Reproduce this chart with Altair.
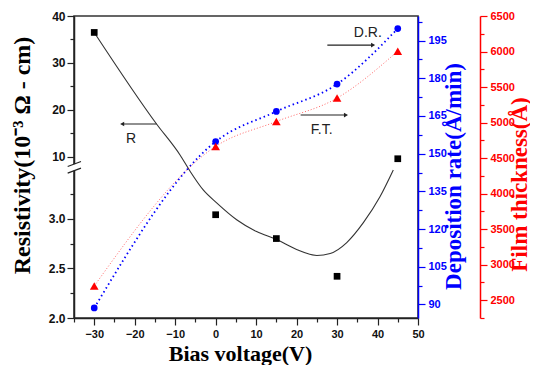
import altair as alt
import pandas as pd

# ---------------- data ----------------
bias = [-30, 0, 15, 30, 45]                         # Bias voltage (V)
resistivity = [36.5, 3.04, 2.80, 2.42, 9.6]         # 10^-3 ohm-cm
dep_rate = [88.6, 154.8, 166.8, 177.7, 199.8]       # Å/min
thickness = [2700, 4665, 5015, 5345, 6005]          # Å

# fitted resistivity curve (solid black)
fit_x = [-30, -14.6, -8.8, -6.35, -3.07, 0.25, 5.19, 10.13, 15.07, 20.0,
         25.0, 28.3, 32.4, 36.5, 40.6, 43.9]
fit_r = [36.5, 17.0, 10.4, 3.48, 3.29, 3.16, 2.99, 2.87, 2.79, 2.69,
         2.63, 2.65, 2.76, 2.96, 3.22, 3.49]

# annotations
ann_text = ["R", "D.R.", "F.T."]
ann_tx = [-20.9, 37.6, 26.2]
ann_ty = [13.8, 36.3, 15.7]
arrow_from = [-14.6, 27.6, 21.0]
arrow_to = [-23.1, 38.9, 32.2]
arrow_y = [17.0, 33.8, 18.9]
arrow_shape = ["triangle-left", "triangle-right", "triangle-right"]

# broken left axis: lower segment 2.0-3.5, upper segment 7.4-40
left_major = [2.0, 2.5, 3.0, 10, 20, 30, 40]
left_major_lab = ["2.0", "2.5", "3.0", "10", "20", "30", "40"]
left_minor = [2.25, 2.75, 3.25, 15, 25, 35]

LOW_SCALE = 99.4     # axis units per resistivity unit (lower segment)
HIGH_SCALE = 4.7     # axis units per resistivity unit (upper segment)
HIGH_BASE = 161.3    # axis position of 10


def brk(v):
    if v < 5:
        return (v - 2.0) * LOW_SCALE
    return HIGH_BASE + (v - 10) * HIGH_SCALE


U_TOP = brk(40)

pts = pd.DataFrame({"bias": bias, "u": [brk(v) for v in resistivity],
                    "rate": dep_rate, "thick": thickness})
fit = pd.DataFrame({"bias": fit_x, "u": [brk(v) for v in fit_r]})
arrows = pd.DataFrame({"bias": arrow_from, "bias2": arrow_to,
                       "u": [brk(v) for v in arrow_y]})
heads = pd.DataFrame({"bias": arrow_to, "u": [brk(v) for v in arrow_y],
                      "shape": arrow_shape})
labels = pd.DataFrame({"bias": ann_tx, "u": [brk(v) for v in ann_ty],
                       "text": ann_text})
# break marks on left axis
brk_gap = pd.DataFrame({"bias": [-35], "u": [147.5], "u2": [154.0]})
brk_sl = pd.DataFrame({"bias": [-36.56, -36.56], "bias2": [-33.27, -33.27],
                       "u": [151.6, 145.0], "u2": [156.6, 150.0]})

SANS = "Liberation Sans"
SERIF = "Liberation Serif"
BLUE = "#0000FF"
RED = "#FF0000"

# ---------------- axes ----------------
x_axis = alt.Axis(
    values=list(range(-35, 51, 5)),
    labelExpr="datum.value % 10 == 0 ? datum.label : ''",
    tickSize={"condition": {"test": "datum.value % 10 != 0", "value": 4}, "value": 7},
    title="Bias voltage(V)", titleFont=SERIF, titleFontSize=22, titleFontWeight="bold",
    titlePadding=4, titleX=166, labelFont=SANS, labelFontSize=11, labelFontWeight="bold",
    labelPadding=3, domainColor="#222", tickColor="#222", labelColor="#111",
    domainWidth=1.5, tickWidth=1.2, grid=False, labelFlush=False,
)
xs = alt.Scale(domain=[-35, 50], nice=False, zero=False)

left_vals = [brk(v) for v in left_major] + [brk(v) for v in left_minor]
lab_expr = "".join(f"abs(datum.value - {brk(v):.4f}) < 0.01 ? '{l}' : "
                   for v, l in zip(left_major, left_major_lab)) + "''"
maj_test = " || ".join(f"abs(datum.value - {brk(v):.4f}) < 0.01" for v in left_major)
left_axis = alt.Axis(
    orient="left", values=left_vals, labelExpr=lab_expr,
    tickSize={"condition": {"test": maj_test, "value": 7}, "value": 4},
    title="Resistivity(10⁻³ Ω - cm)", titleFont=SERIF, titleFontSize=24,
    titleFontWeight="bold", titleAngle=270, titleBaseline="middle",
    titleX=-52, titleY=139, labelFont=SANS, labelFontSize=12,
    labelFontWeight="bold", labelPadding=2, domainColor="#222", tickColor="#222",
    labelColor="#111", domainWidth=1.5, tickWidth=1.2, grid=False,
)
ys = alt.Scale(domain=[0, U_TOP], nice=False, zero=False)

blue_vals = [90 + 7.5 * k for k in range(0, 17)]
blue_axis = alt.Axis(
    orient="right", values=blue_vals,
    labelExpr="datum.value % 15 == 0 ? datum.label : ''",
    tickSize={"condition": {"test": "datum.value % 15 != 0", "value": 4}, "value": 7},
    title="Deposition rate(Å/min)", titleFont=SERIF, titleFontSize=23,
    titleFontWeight="bold", titleAngle=270, titleBaseline="middle",
    titleX=35, titleY=160, titleColor=BLUE,
    labelFont=SANS, labelFontSize=11, labelFontWeight="bold", labelPadding=3,
    domainColor=BLUE, tickColor=BLUE, labelColor=BLUE, domainWidth=1.5,
    tickWidth=1.2, grid=False, labelFlush=False,
)
bs = alt.Scale(domain=[84.6, 204.8], nice=False, zero=False)

red_vals = list(range(2250, 6501, 250))
red_axis = alt.Axis(
    orient="right", offset=62, values=red_vals, format="d",
    labelExpr="datum.value % 500 == 0 ? datum.label : ''",
    tickSize={"condition": {"test": "datum.value % 500 != 0", "value": 4}, "value": 7},
    title="Film thickness(Å)", titleFont=SERIF, titleFontSize=23,
    titleFontWeight="bold", titleAngle=270, titleBaseline="middle",
    titleX=39, titleY=168, titleColor=RED,
    labelFont=SANS, labelFontSize=11, labelFontWeight="bold", labelPadding=3,
    domainColor=RED, tickColor=RED, labelColor=RED, domainWidth=1.5,
    tickWidth=1.2, grid=False, labelFlush=False,
)
rs = alt.Scale(domain=[2250, 6500], nice=False, zero=False)

X = alt.X("bias:Q", scale=xs, axis=x_axis)
Yl = alt.Y("u:Q", scale=ys, axis=left_axis)
Yl0 = alt.Y("u:Q", scale=ys, axis=None)

# ---------------- resistivity ----------------
fit_line = alt.Chart(fit).mark_line(interpolate="monotone", color="#333",
                                    strokeWidth=1.1).encode(x=X, y=Yl)
squares = alt.Chart(pts).mark_point(shape="square", filled=True, size=45,
                                    color="black", opacity=1).encode(x=X, y=Yl0)
arrow_rules = alt.Chart(arrows).mark_rule(color="#222", strokeWidth=1.1).encode(
    x=X, x2="bias2:Q", y=Yl0)
arrow_heads = alt.Chart(heads).mark_point(filled=True, size=22, color="#222",
                                          opacity=1).encode(
    x=X, y=Yl0, shape=alt.Shape("shape:N", scale=None))
ann = alt.Chart(labels).mark_text(font=SANS, fontSize=14, color="#222").encode(
    x=X, y=Yl0, text="text:N")
gap = alt.Chart(brk_gap).mark_rule(color="white", strokeWidth=4).encode(
    x=X, y=Yl0, y2="u2:Q")
slashes = alt.Chart(brk_sl).mark_rule(color="#222", strokeWidth=1.2).encode(
    x=X, x2="bias2:Q", y=Yl0, y2="u2:Q")

# ---------------- deposition rate (blue) ----------------
blue_line = alt.Chart(pts).mark_line(interpolate="monotone", color=BLUE,
                                     strokeWidth=1.8, strokeDash=[1.5, 3]).encode(
    x=X, y=alt.Y("rate:Q", scale=bs, axis=blue_axis))
blue_pts = alt.Chart(pts).mark_circle(size=45, color=BLUE, opacity=1).encode(
    x=X, y=alt.Y("rate:Q", scale=bs, axis=None))

# ---------------- film thickness (red) ----------------
red_line = alt.Chart(pts).mark_line(interpolate="monotone", color=RED,
                                    strokeWidth=1, strokeDash=[1, 2],
                                    opacity=0.6).encode(
    x=X, y=alt.Y("thick:Q", scale=rs, axis=red_axis))
red_pts = alt.Chart(pts).mark_point(shape="triangle-up", filled=True, size=75,
                                    color=RED, opacity=1).encode(
    x=X, y=alt.Y("thick:Q", scale=rs, axis=None))

chart = alt.layer(
    fit_line, blue_line, red_line, squares, blue_pts, red_pts,
    arrow_rules, arrow_heads, ann, gap, slashes,
).resolve_scale(y="independent").properties(
    width=344, height=302,
    autosize=alt.AutoSizeParams(type="none"),
    padding={"left": 66, "top": 8, "right": 112, "bottom": 47},
).configure_view(stroke="#333", strokeWidth=1.6)

chart.save("out.html", embed_options={"renderer": "svg", "actions": False})
